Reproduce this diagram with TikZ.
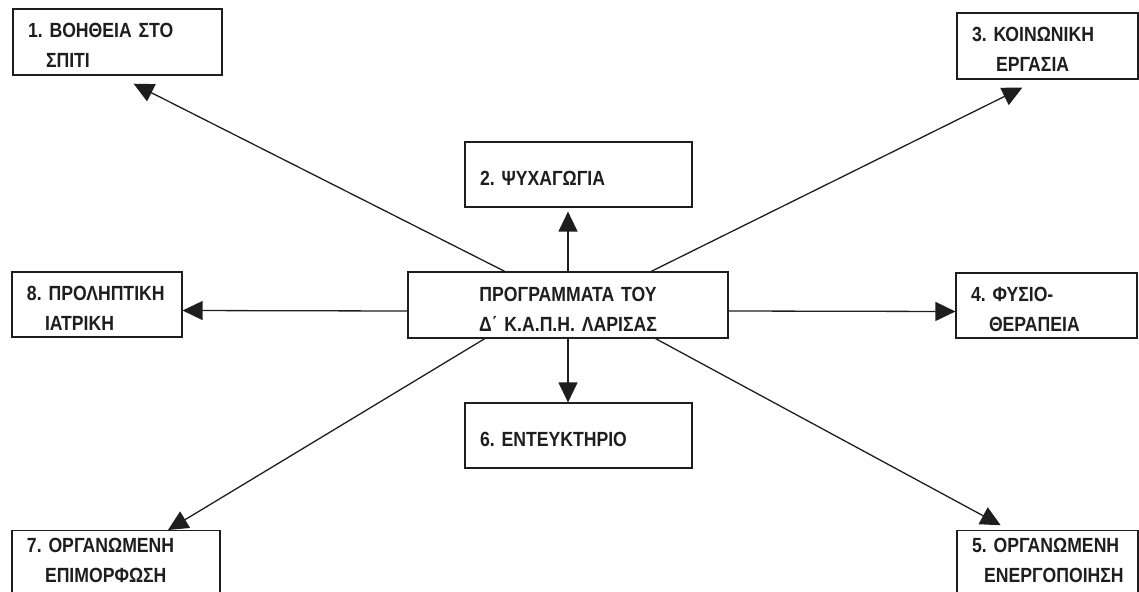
\documentclass[tikz,border=0pt]{standalone}
\usepackage{fontspec}
\setmainfont{Liberation Sans}[FakeStretch=0.86]
\usetikzlibrary{arrows.meta}
\definecolor{inkgrey}{RGB}{30,30,30}
\frenchspacing

\begin{document}
\begin{tikzpicture}[x=1pt, y=-1pt,
      box/.style={rectangle, draw=inkgrey, line width=1.2pt, inner xsep=15pt, inner ysep=0pt,
                  text width=#1, align=left, minimum height=66pt, text=inkgrey,
                  font=\fontsize{20.5}{30}\selectfont\bfseries,
                  execute at begin node=\rule{0pt}{22pt}},
      arr/.style={-{Triangle[length=20pt, width=19pt]}, line width=1.3pt, draw=inkgrey}]
    \useasboundingbox (0,0) rectangle (1139,591);
    \clip (0,0) rectangle (1139,591);
    % centre
    \node[box=290pt, align=center] (prog) at (568,305) {ΠΡΟΓΡΑΜΜΑΤΑ ΤΟΥ\\ Δ΄ Κ.Α.Π.Η. ΛΑΡΙΣΑΣ};
    % the eight programmes
    \node[box=179pt] (home) at (117.5,42) {1. ΒΟΗΘΕΙΑ ΣΤΟ\\ \hspace*{18pt}ΣΠΙΤΙ};
    \node[box=197pt, minimum height=65pt] (leisure) at (578.5,174.5) {2. ΨΥΧΑΓΩΓΙΑ};
    \node[box=151pt] (social) at (1047.5,46) {3. ΚΟΙΝΩΝΙΚΗ\\ \hspace*{24pt}ΕΡΓΑΣΙΑ};
    \node[box=151pt, minimum height=65pt] (physio) at (1046.5,305.5) {4. ΦΥΣΙΟ-\\ \hspace*{18pt}ΘΕΡΑΠΕΙΑ};
    \node[box=151pt, anchor=north] (activ) at (1047.5,530) {5. ΟΡΓΑΝΩΜΕΝΗ\\ \hspace*{12pt}ΕΝΕΡΓΟΠΟΙΗΣΗ\rule[-20pt]{0pt}{20pt}};
    \node[box=197pt, minimum height=65pt] (club) at (578.5,435.5) {6. ΕΝΤΕΥΚΤΗΡΙΟ};
    \node[box=178pt, anchor=north] (educ) at (116,530) {7. ΟΡΓΑΝΩΜΕΝΗ\\ \hspace*{18pt}ΕΠΙΜΟΡΦΩΣΗ\rule[-20pt]{0pt}{20pt}};
    \node[box=140pt, minimum height=65pt] (prevent) at (97,304.5) {8. ΠΡΟΛΗΠΤΙΚΗ\\ \hspace*{18pt}ΙΑΤΡΙΚΗ};
    % arrows
    \draw[arr, shorten >=18pt] (prog.152.4) -- (home.south);
    \draw[arr, shorten >=4pt] (prog.north) -- (prog.north |- leisure.south);
    \draw[arr, shorten >=18pt] (prog.22.7) -- ([xshift=-9pt]social.south);
    \draw[arr] ([yshift=-6pt]prog.east) -- ([yshift=-6pt]physio.west);
    \draw[arr, shorten >=10pt] (prog.339.2) -- ([xshift=-38pt]activ.north);
    \draw[arr] (prog.south) -- (prog.south |- club.north);
    \draw[arr] (prog.202.9) -- ([xshift=52pt]educ.north);
    \draw[arr] ([yshift=-6pt]prog.west) -- ([yshift=-6pt]prevent.east);
\end{tikzpicture}
\end{document}
